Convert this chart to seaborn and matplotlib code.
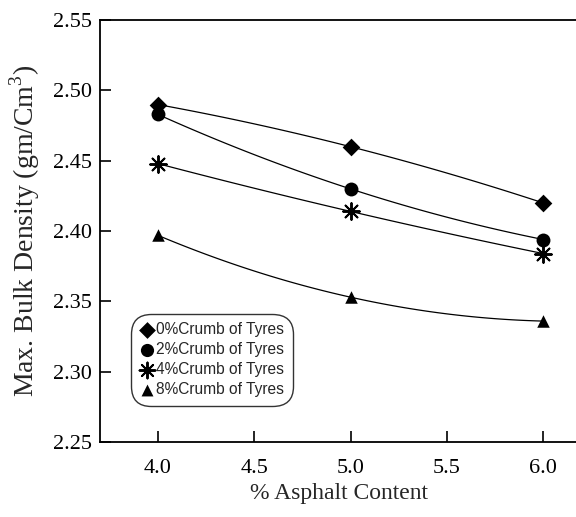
import matplotlib
matplotlib.use("Agg")
import matplotlib.pyplot as plt
import seaborn as sns
import numpy as np
import pandas as pd

asphalt = [4.0, 5.0, 6.0]
crumb0 = [2.490, 2.460, 2.420]
crumb2 = [2.483, 2.430, 2.394]
crumb4 = [2.448, 2.414, 2.384]
crumb8 = [2.397, 2.353, 2.336]
labels = ["0%Crumb of Tyres", "2%Crumb of Tyres", "4%Crumb of Tyres", "8%Crumb of Tyres"]
xticks = [4.0, 4.5, 5.0, 5.5, 6.0]
yticks = [2.25, 2.30, 2.35, 2.40, 2.45, 2.50, 2.55]

sns.set_theme(style="white")
plt.rcParams['font.family'] = ['Liberation Serif', 'DejaVu Serif']
plt.rcParams['mathtext.fontset'] = 'custom'
plt.rcParams['mathtext.rm'] = 'Liberation Serif'

fig = plt.figure(figsize=(5.76, 5.17), dpi=100)
ax = fig.add_axes([0.1736, 0.145, 0.83, 0.816])

markers = ['D', 'o', (8, 2, 0), '^']
sizes = [9, 10, 12, 9]
for ys, lab, m, s in zip([crumb0, crumb2, crumb4, crumb8], labels, markers, sizes):
    df = pd.DataFrame({"x": asphalt, "y": ys})
    sns.regplot(data=df, x="x", y="y", order=2, ci=None, ax=ax, color="black",
                marker=m, scatter_kws={"s": s**2, "linewidths": 1.4 if m == (8, 2, 0) else 0,
                                       "zorder": 3, "alpha": 1, "color": "black"},
                line_kws={"lw": 0.9, "color": "black"}, label=lab)

ax.set_xlim(3.7, 6.18)
ax.set_ylim(2.25, 2.55)
ax.set_xticks(xticks)
ax.set_xticklabels([f"{v:.1f}" for v in xticks])
ax.set_yticks(yticks)
ax.set_yticklabels([f"{v:.2f}" for v in yticks])
ax.tick_params(axis="both", direction="in", length=8, width=1.2, labelsize=16, colors="black",
               left=True, bottom=True)
ax.tick_params(axis="x", pad=12)
ax.tick_params(axis="y", pad=6)
for sp in ["left", "bottom", "top"]:
    ax.spines[sp].set_color("black")
    ax.spines[sp].set_linewidth(1.3)
ax.spines["right"].set_visible(False)

ax.set_xlabel("% Asphalt Content", fontsize=17, labelpad=4)
ax.set_ylabel("Max. Bulk Density (gm/Cm$^3$)", fontsize=20, labelpad=8)

handles, labs = ax.get_legend_handles_labels()
leg = ax.legend(handles[::2] if len(handles) > 4 else handles, labels,
                loc="lower left", bbox_to_anchor=(0.072, 0.095),
                prop={"family": "Liberation Sans", "size": 11.2},
                frameon=True, fancybox=True, edgecolor="black",
                handletextpad=0.1, labelspacing=0.32, borderpad=0.3, handlelength=1.0,
                markerscale=0.95, borderaxespad=0)
leg.get_frame().set_linewidth(1.0)
leg.get_frame().set_boxstyle("round,pad=0.25,rounding_size=1.3")

fig.savefig("out.png", dpi=100)
